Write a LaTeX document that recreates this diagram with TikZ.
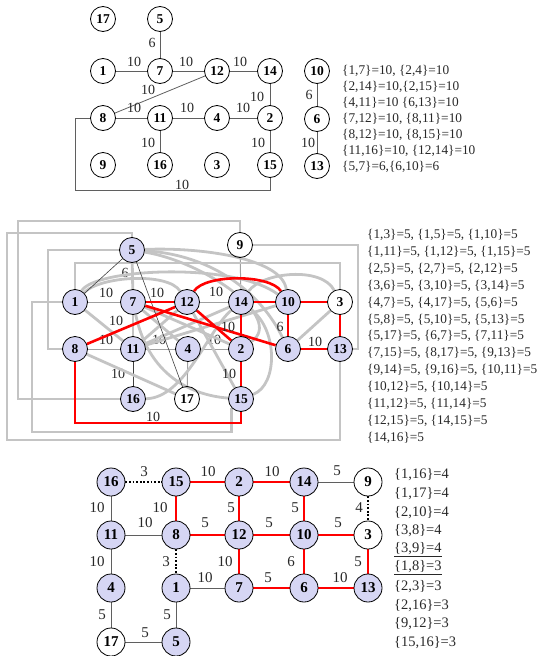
\documentclass[tikz,border=0pt]{standalone}
\usepackage{fontspec}
\setmainfont{Liberation Serif}
\definecolor{nodefill}{RGB}{214,214,244}
\definecolor{edgegray}{RGB}{95,95,95}
\definecolor{midgray}{RGB}{160,160,160}
\definecolor{pale}{RGB}{196,196,196}
\definecolor{labtext}{RGB}{40,40,40}
\pgfdeclarelayer{edges}
\pgfsetlayers{edges,main}
\begin{document}
\begin{tikzpicture}[x=1pt,y=1pt,
  vert/.style={circle,draw=black,line width=0.8pt,minimum size=25pt,inner sep=0pt,
    font=\fontsize{13.5}{14}\selectfont\bfseries},
  vbig/.style={vert,minimum size=28pt,font=\fontsize{15}{15}\selectfont\bfseries},
  lav/.style={fill=nodefill},
  wl/.style={inner sep=0pt,font=\fontsize{14}{14}\selectfont,text=labtext},
  wlb/.style={inner sep=0pt,font=\fontsize{15}{15}\selectfont,text=labtext},
  eThin/.style={draw=edgegray,line width=0.8pt},
  eFaint/.style={draw=midgray,line width=1pt},
  eDark/.style={draw=black!75,line width=0.6pt},
  eHeavy/.style={draw=pale,line width=2.8pt},
  chosen/.style={draw=red,line width=2.6pt},
  eDot/.style={draw=black,line width=2pt,dash pattern=on 1.8pt off 1.8pt},
  listtxt/.style={anchor=west,inner sep=0pt,font=\fontsize{13.3}{14}\selectfont,text=labtext},
  listbig/.style={anchor=west,inner sep=0pt,font=\fontsize{14.5}{15}\selectfont,text=labtext},
]
\useasboundingbox (0,0) rectangle (542,-656);

% ---------------- first graph: weights 10 and 6 ----------------
\node[vert] (t17) at (103,-19) {17};
\node[vert] (t5)  at (160,-19) {5};
\node[vert] (t1)  at (103,-71) {1};
\node[vert] (t7)  at (160,-71) {7};
\node[vert] (t12) at (217,-71) {12};
\node[vert] (t14) at (270,-71) {14};
\node[vert] (t8)  at (103,-118) {8};
\node[vert] (t11) at (160,-118) {11};
\node[vert] (t4)  at (217,-118) {4};
\node[vert] (t2)  at (270,-118) {2};
\node[vert] (t9)  at (103,-165) {9};
\node[vert] (t16) at (160,-165) {16};
\node[vert] (t3)  at (217,-165) {3};
\node[vert] (t15) at (270,-165) {15};
\node[vert] (t10) at (317,-71) {10};
\node[vert] (t6)  at (317,-119) {6};
\node[vert] (t13) at (317,-166) {13};

\begin{pgfonlayer}{edges}
\draw[eThin] (t5) -- (t7) node[wl] at (152,-43) {6};
\draw[eThin] (t1) -- (t7) node[wl] at (134,-62) {10};
\draw[eThin] (t7) -- (t12) node[wl] at (186,-62) {10};
\draw[eThin] (t12) -- (t14) node[wl] at (240,-62) {10};
\draw[eThin] (t12) -- (t8) node[wl] at (148,-90) {10};
\draw[eThin] (t8) -- (t11) node[wl] at (134,-108) {10};
\draw[eThin] (t11) -- (t4) node[wl] at (187,-108) {10};
\draw[eThin] (t4) -- (t2) node[wl] at (243,-108) {10};
\draw[eThin] (t14) -- (t2) node[wl] at (257,-97) {10};
\draw[eThin] (t2) -- (t15) node[wl] at (258,-143) {10};
\draw[eThin] (t11) -- (t16) node[wl] at (148,-143) {10};
\draw[eThin] (t8) -| (75,-190) -| (t15) node[wl] at (182,-185) {10};
\draw[eThin] (t10) -- (t6) node[wl] at (309,-95) {6};
\draw[eThin] (t6) -- (t13) node[wl] at (308,-143) {10};
\end{pgfonlayer}

\node[listtxt] (l1a) at (342,-70.7) {\{1,7\}=10, \{2,4\}=10};
\node[listtxt] (l1b) at (342,-86.8) {\{2,14\}=10,\{2,15\}=10};
\node[listtxt] (l1c) at (342,-102.9) {\{4,11\}=10 \{6,13\}=10};
\node[listtxt] (l1d) at (342,-119.0) {\{7,12\}=10, \{8,11\}=10};
\node[listtxt] (l1e) at (342,-135.1) {\{8,12\}=10, \{8,15\}=10};
\node[listtxt] (l1f) at (342,-151.2) {\{11,16\}=10, \{12,14\}=10};
\node[listtxt] (l1g) at (342,-167.3) {\{5,7\}=6,\{6,10\}=6};

% ---------------- second graph: all weighted edges ----------------
\node[vert,lav] (m5)  at (132,-250) {5};
\node[vert]     (m9)  at (240,-245) {9};
\node[vert,lav] (m1)  at (75,-302) {1};
\node[vert,lav] (m7)  at (133,-302) {7};
\node[vert,lav] (m12) at (187,-302) {12};
\node[vert,lav] (m14) at (241,-302) {14};
\node[vert,lav] (m10) at (288,-302) {10};
\node[vert]     (m3)  at (340,-302) {3};
\node[vert,lav] (m8)  at (75,-349) {8};
\node[vert,lav] (m11) at (133,-349) {11};
\node[vert,lav] (m4)  at (188,-349) {4};
\node[vert,lav] (m2)  at (241,-349) {2};
\node[vert,lav] (m6)  at (288,-349) {6};
\node[vert,lav] (m13) at (340,-349) {13};
\node[vert,lav] (m16) at (133,-399) {16};
\node[vert]     (m17) at (187,-399) {17};
\node[vert,lav] (m15) at (241,-399) {15};

\begin{pgfonlayer}{edges}
% thin edges of weight 10 and 6
\draw[eFaint] (m1) -- (m7) node[wl] at (106,-293) {10};
\draw[eFaint] (m12) -- (m14) node[wl] at (216,-292) {10};
\draw[eFaint] (m8) -- (m11) node[wl] at (106,-340) {10};
\draw[eFaint] (m11) -- (m4) node[wl] at (159,-340) {10};
\draw[eFaint] (m4) -- (m2) node[wl] at (214,-340) {10};
\draw[eDark] (m11) -- (m16) node[wl] at (118,-374) {10};
\draw[eFaint] (m9) -- (m14);
\draw[eFaint] (m4) -- (m17);

% weight-5 edges
\draw[eHeavy] (m5) -- (m7) node[wl] at (125,-273) {6};
\draw[eHeavy] (m9) |- (18,-221) |- (m16);
\draw[eHeavy] (m5) |- (7,-233) |- (340,-440) -- (m13);
\draw[eHeavy] (m5) -| (48,-349) -- (m8);
\draw[eHeavy] (m1) |- (340,-263) -- (m3);
\draw[eHeavy] (m1) -| (32,-432) -| (m15.south west);
\draw[eHeavy] (m9) -| (358,-349) -- (m13);
\draw[eHeavy] (m5) .. controls (200,-247) and (282,-258) .. (m10);
\draw[eHeavy] (m5) .. controls (215,-255) and (262,-295) .. (m6);
\draw[eHeavy] (m5) .. controls (205,-262) and (285,-318) .. (m2);
\draw[eHeavy] (m1) .. controls (95,-268) and (235,-262) .. (m10);
\draw[eHeavy] (m1) .. controls (100,-276) and (168,-272) .. (m12);
\draw[eHeavy] (m14) .. controls (262,-272) and (322,-266) .. (m3);
\draw[eHeavy] (m7) .. controls (150,-382) and (200,-396) .. (m15);
\draw[eHeavy] (m14) .. controls (278,-330) and (278,-385) .. (m15);
\draw[eHeavy] (m16) .. controls (185,-398) and (208,-330) .. (m14);
\draw[eHeavy] (m1) -- (m11);
\draw[eHeavy] (m7) -- (m11);
\draw[eHeavy] (m7) -- (m4);
\draw[eHeavy] (m7) -- (m2);
\draw[eHeavy] (m8) -- (m17);
\draw[eHeavy] (m11) -- (m12);
\draw[eHeavy] (m11) -- (m14);
\draw[eHeavy] (m11) -- (m10);
\draw[eHeavy] (m12) -- (m15);
\draw[eHeavy] (m3) -- (m6);
\draw[eDark] (m5) -- (m1);
\draw[eDark] (m5) -- (m17);

% selected edges
\draw[chosen] (m7) -- (m12) node[wl] at (157,-293) {10};
\draw[chosen] (m8) -- (m12) node[wl] at (116,-321) {10};
\draw[chosen] (m7) -- (m6);
\draw[chosen] (m12) -- (m2);
\draw[chosen] (m12) .. controls (205,-274) and (270,-274) .. (m10);
\draw[chosen] (m14) -- (m10);
\draw[chosen] (m10) -- (m3);
\draw[chosen] (m10) -- (m6) node[wl] at (280,-327) {6};
\draw[chosen] (m6) -- (m13) node[wl] at (315,-342) {10};
\draw[chosen] (m3) -- (m13);
\draw[chosen] (m14) -- (m2) node[wl] at (228,-327) {10};
\draw[chosen] (m2) -- (m15) node[wl] at (229,-374) {10};
\draw[chosen] (m8) |- (241,-423) -- (m15) node[wl] at (153,-417) {10};
\end{pgfonlayer}

\node[listtxt] (l2a) at (367,-235.0) {\{1,3\}=5, \{1,5\}=5, \{1,10\}=5};
\node[listtxt] (l2b) at (367,-251.9) {\{1,11\}=5, \{1,12\}=5, \{1,15\}=5};
\node[listtxt] (l2c) at (367,-268.8) {\{2,5\}=5, \{2,7\}=5, \{2,12\}=5};
\node[listtxt] (l2d) at (367,-285.7) {\{3,6\}=5, \{3,10\}=5, \{3,14\}=5};
\node[listtxt] (l2e) at (367,-302.6) {\{4,7\}=5, \{4,17\}=5, \{5,6\}=5};
\node[listtxt] (l2f) at (367,-319.5) {\{5,8\}=5, \{5,10\}=5, \{5,13\}=5};
\node[listtxt] (l2g) at (367,-336.4) {\{5,17\}=5, \{6,7\}=5, \{7,11\}=5};
\node[listtxt] (l2h) at (367,-353.3) {\{7,15\}=5, \{8,17\}=5, \{9,13\}=5};
\node[listtxt] (l2i) at (367,-370.2) {\{9,14\}=5, \{9,16\}=5, \{10,11\}=5};
\node[listtxt] (l2j) at (367,-387.1) {\{10,12\}=5, \{10,14\}=5};
\node[listtxt] (l2k) at (367,-404.0) {\{11,12\}=5, \{11,14\}=5};
\node[listtxt] (l2l) at (367,-420.9) {\{12,15\}=5, \{14,15\}=5};
\node[listtxt] (l2m) at (367,-437.8) {\{14,16\}=5};

% ---------------- third graph: grid layout ----------------
\node[vbig,lav] (b16) at (111,-482) {16};
\node[vbig,lav] (b15) at (176,-482) {15};
\node[vbig,lav] (b2)  at (239,-482) {2};
\node[vbig,lav] (b14) at (304,-482) {14};
\node[vbig]     (b9)  at (368,-482) {9};
\node[vbig,lav] (b11) at (111,-535) {11};
\node[vbig,lav] (b8)  at (176,-535) {8};
\node[vbig,lav] (b12) at (239,-535) {12};
\node[vbig,lav] (b10) at (304,-535) {10};
\node[vbig]     (b3)  at (368,-535) {3};
\node[vbig,lav] (b4)  at (111,-588) {4};
\node[vbig,lav] (b1)  at (176,-588) {1};
\node[vbig,lav] (b7)  at (239,-588) {7};
\node[vbig,lav] (b6)  at (304,-588) {6};
\node[vbig,lav] (b13) at (368,-588) {13};
\node[vbig]     (b17) at (111,-642) {17};
\node[vbig,lav] (b5)  at (176,-642) {5};

\begin{pgfonlayer}{edges}
\draw[eDot] (b16) -- (b15) node[wlb] at (144,-472) {3};
\draw[chosen] (b15) -- (b2) node[wlb] at (208,-472) {10};
\draw[chosen] (b2) -- (b14) node[wlb] at (272,-472) {10};
\draw[eThin] (b14) -- (b9) node[wlb] at (337,-471) {5};
\draw[eThin] (b16) -- (b11) node[wlb] at (97,-508) {10};
\draw[chosen] (b15) -- (b8) node[wlb] at (160,-508) {10};
\draw[chosen] (b2) -- (b12) node[wlb] at (231,-508) {5};
\draw[chosen] (b14) -- (b10) node[wlb] at (295,-508) {5};
\draw[eDot] (b9) -- (b3) node[wlb] at (359,-508) {4};
\draw[eThin] (b11) -- (b8) node[wlb] at (145,-523) {10};
\draw[chosen] (b8) -- (b12) node[wlb] at (205,-523) {5};
\draw[chosen] (b12) -- (b10) node[wlb] at (269,-523) {5};
\draw[chosen] (b10) -- (b3) node[wlb] at (338,-523) {5};
\draw[eThin] (b11) -- (b4) node[wlb] at (97,-562) {10};
\draw[eDot] (b8) -- (b1) node[wlb] at (166,-562) {3};
\draw[chosen] (b12) -- (b7) node[wlb] at (225,-562) {10};
\draw[chosen] (b10) -- (b6) node[wlb] at (291,-562) {6};
\draw[chosen] (b3) -- (b13) node[wlb] at (358,-562) {5};
\draw[eThin] (b1) -- (b7) node[wlb] at (205,-578) {10};
\draw[chosen] (b7) -- (b6) node[wlb] at (268,-578) {5};
\draw[chosen] (b6) -- (b13) node[wlb] at (340,-578) {10};
\draw[eThin] (b4) -- (b17) node[wlb] at (102,-615) {5};
\draw[eThin] (b1) -- (b5) node[wlb] at (167,-615) {5};
\draw[eThin] (b17) -- (b5) node[wlb] at (145,-633) {5};
\end{pgfonlayer}

\node[listbig] (l3a) at (394,-475.0) {\{1,16\}=4};
\node[listbig] (l3b) at (394,-493.6) {\{1,17\}=4};
\node[listbig] (l3c) at (394,-512.2) {\{2,10\}=4};
\node[listbig] (l3d) at (394,-530.8) {\{3,8\}=4};
\node[listbig] (l3e) at (394,-549.4) {\underline{\{3,9\}=4}};
\node[listbig] (l3f) at (394,-568.0) {\underline{\{1,8\}=3}};
\node[listbig] (l3g) at (394,-586.6) {\{2,3\}=3};
\node[listbig] (l3h) at (394,-605.2) {\{2,16\}=3};
\node[listbig] (l3i) at (394,-623.8) {\{9,12\}=3};
\node[listbig] (l3j) at (394,-642.4) {\{15,16\}=3};
\end{tikzpicture}
\end{document}
